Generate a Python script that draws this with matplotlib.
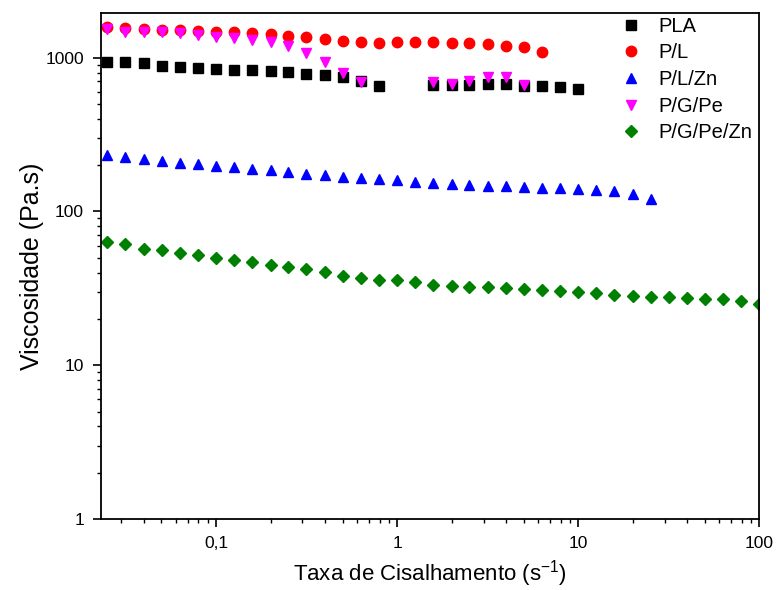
import matplotlib
matplotlib.use("Agg")
import matplotlib.pyplot as plt
from matplotlib.ticker import LogLocator, FixedLocator, FixedFormatter, NullFormatter

plt.rcParams['font.family'] = ['Liberation Sans', 'DejaVu Sans']
plt.rcParams['mathtext.fontset'] = 'custom'
plt.rcParams['mathtext.rm'] = 'Liberation Sans'

shear_rate = [0.0251, 0.0316, 0.0398, 0.0501, 0.0631, 0.0794, 0.1, 0.126, 0.158, 0.2,
              0.251, 0.316, 0.398, 0.501, 0.631, 0.794, 1.0, 1.26, 1.58, 2.0,
              2.51, 3.16, 3.98, 5.01, 6.31, 7.94, 10.0, 12.6, 15.8, 20.0,
              25.1, 31.6, 39.8, 50.1, 63.1, 79.4, 100.0]

pla_x = shear_rate[0:16] + shear_rate[18:27]
pla_y = [942, 942, 920, 887, 874, 861, 848, 835, 828, 820, 804, 787, 775, 746, 702, 654,
         665, 665, 665, 671, 671, 654, 654, 642, 623]

pl_x = shear_rate[0:25]
pl_y = [1591, 1553, 1530, 1515, 1515, 1492, 1478, 1463, 1455, 1427, 1391, 1370, 1323,
        1290, 1265, 1252, 1271, 1271, 1259, 1241, 1241, 1222, 1197, 1169, 1094]

plzn_x = shear_rate[0:31]
plzn_y = [232, 226, 218, 213, 207, 203, 198, 194, 190, 185, 180, 176, 172, 168, 165,
          162, 159, 156, 153, 151, 149, 147, 146, 145, 143, 142, 140, 138, 135, 130, 121]

pgpe_x = shear_rate[0:15] + shear_rate[18:24]
pgpe_y = [1530, 1476, 1476, 1463, 1441, 1405, 1369, 1337, 1304, 1260, 1192, 1078, 942,
          799, 698, 692, 671, 705, 746, 746, 664]

pgpezn_x = shear_rate[0:37]
pgpezn_y = [62.9, 61.1, 57.2, 55.8, 53.9, 52.0, 49.8, 48.3, 46.7, 44.6, 43.5, 42.0, 40.2,
            38.2, 36.9, 35.9, 35.6, 34.7, 33.4, 32.9, 32.4, 32.1, 31.7, 31.1, 30.8, 30.2,
            29.8, 29.3, 28.7, 28.3, 27.9, 27.7, 27.3, 27.0, 26.8, 26.2, 24.9]

labels = ['PLA', 'P/L', 'P/L/Zn', 'P/G/Pe', 'P/G/Pe/Zn']
xticks = [0.1, 1, 10, 100]
xtick_labels = ['0,1', '1', '10', '100']
yticks = [1, 10, 100, 1000]
ytick_labels = ['1', '10', '100', '1000']

fig = plt.figure(figsize=(7.76, 5.90), dpi=100)
ax = fig.add_axes([0.1298, 0.1203, 0.9785 - 0.1298, 0.9785 - 0.1203])

ax.plot(pla_x, pla_y, ls='none', marker='s', ms=6.8, color='black', label=labels[0])
ax.plot(pl_x, pl_y, ls='none', marker='o', ms=7.5, color='#FF0000', label=labels[1])
ax.plot(plzn_x, plzn_y, ls='none', marker='^', ms=7.5, color='#0000FF', label=labels[2])
ax.plot(pgpe_x, pgpe_y, ls='none', marker='v', ms=7.5, color='#FF00FF', label=labels[3])
ax.plot(pgpezn_x, pgpezn_y, ls='none', marker='D', ms=6.2, color='#008000', label=labels[4])

ax.set_xscale('log')
ax.set_yscale('log')
ax.set_xlim(0.0231, 100)
ax.set_ylim(1, 1960)

ax.xaxis.set_major_locator(FixedLocator(xticks))
ax.xaxis.set_major_formatter(FixedFormatter(xtick_labels))
ax.yaxis.set_major_locator(FixedLocator(yticks))
ax.yaxis.set_major_formatter(FixedFormatter(ytick_labels))
ax.xaxis.set_minor_locator(LogLocator(base=10, subs=range(2, 10)))
ax.yaxis.set_minor_locator(LogLocator(base=10, subs=range(2, 10)))
ax.xaxis.set_minor_formatter(NullFormatter())
ax.yaxis.set_minor_formatter(NullFormatter())

ax.tick_params(which='major', direction='out', length=6, width=1.2, labelsize=12.5,
               top=False, right=False, pad=6)
ax.tick_params(which='minor', direction='out', length=3.2, width=1.0,
               top=False, right=False)
for s in ax.spines.values():
    s.set_linewidth(1.3)

ax.set_xlabel('Taxa de Cisalhamento (s$^{\\mathregular{-1}}$)', fontsize=16, labelpad=5)
ax.set_ylabel('Viscosidade (Pa.s)', fontsize=18, labelpad=1)

leg = ax.legend(loc='upper left', bbox_to_anchor=(0.778, 1.008), frameon=False,
                fontsize=14.5, handletextpad=0.85, labelspacing=0.38, borderaxespad=0,
                handlelength=1.0)

fig.savefig('out.png', dpi=100)
